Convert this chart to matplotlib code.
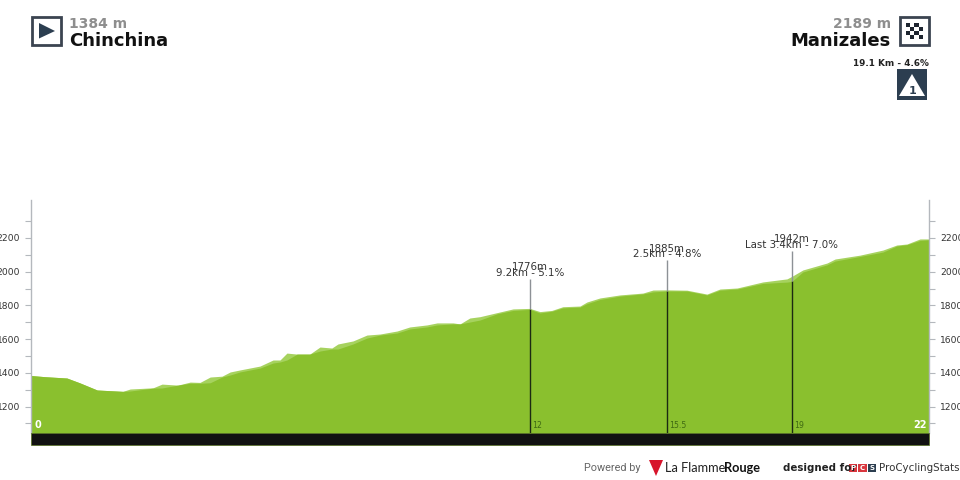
import matplotlib
matplotlib.use("Agg")
import matplotlib.pyplot as plt
from matplotlib.patches import Polygon, Rectangle

# PERFIL DE LA ETAPA
km = [0, 0.34, 0.88, 1.2, 1.62, 2.25, 2.43, 2.99, 3.21, 3.6, 3.9, 4.14, 4.39, 4.68,
      4.88, 5.12, 5.61, 5.93, 6.1, 6.27, 6.52, 6.83, 7.08, 7.37, 7.52, 7.89, 8.23,
      8.55, 8.97, 9.28, 9.7, 9.95, 10.34, 10.51, 10.75, 11.0, 11.42, 11.81, 12.22,
      12.47, 12.76, 13.03, 13.45, 13.62, 13.94, 14.43, 14.99, 15.24, 15.58, 16.07,
      16.56, 16.88, 17.3, 17.93, 18.52, 18.64, 18.91, 19.5, 19.7, 20.31, 20.87,
      21.21, 21.46, 21.78, 22]
elev_claro = [1384, 1377, 1369, 1340, 1298, 1290, 1304, 1311, 1333, 1327, 1345, 1343,
              1375, 1380, 1405, 1417, 1440, 1476, 1476, 1517, 1511, 1511, 1553, 1547,
              1571, 1589, 1624, 1630, 1648, 1672, 1684, 1696, 1696, 1690, 1725, 1733,
              1757, 1779, 1782, 1763, 1770, 1792, 1796, 1820, 1844, 1862, 1873, 1891,
              1892, 1890, 1867, 1897, 1903, 1939, 1957, 1972, 2010, 2051, 2075, 2098,
              2128, 2158, 2164, 2194, 2194]
elev_oscuro = [1384, 1377, 1369, 1340, 1298, 1290, 1292, 1309, 1310, 1327, 1338, 1338,
               1341, 1375, 1387, 1405, 1428, 1458, 1464, 1476, 1511, 1511, 1529, 1541,
               1541, 1571, 1606, 1624, 1636, 1660, 1672, 1684, 1690, 1690, 1701, 1713,
               1750, 1770, 1776, 1755, 1765, 1785, 1790, 1810, 1835, 1855, 1868, 1880,
               1885, 1885, 1862, 1890, 1897, 1930, 1938, 1942, 1998, 2040, 2063, 2090,
               2116, 2152, 2160, 2185, 2189]

marca_km = [12.22, 15.58, 18.64]
marca_elev = [1776, 1885, 1942]
marca_texto = ["9.2km - 5.1%", "2.5km - 4.8%", "Last 3.4km - 7.0%"]
marca_eje = ["12", "15.5", "19"]

ticks_mayores = [1200, 1400, 1600, 1800, 2000, 2200]
ticks_menores = [1100, 1300, 1500, 1700, 1900, 2100, 2300]

VERDE = "#8AC02E"
VERDE_CLARO = "#A6D25E"
AZUL = "#2C3E50"

fig = plt.figure(figsize=(9.6, 4.8), dpi=100)

# EJES DEL PERFIL
ax = fig.add_axes([31 / 960, 47 / 480, 898 / 960, 233 / 480])
ax.set_xlim(0, 22)
ax.set_ylim(1043, 2425)
ax.fill_between(km, 1043, elev_claro, color=VERDE_CLARO, lw=0)
ax.fill_between(km, 1043, elev_oscuro, color=VERDE, lw=0)

for s in ["top", "bottom"]:
    ax.spines[s].set_visible(False)
for s in ["left", "right"]:
    ax.spines[s].set_color("#b4b8bd")
    ax.spines[s].set_linewidth(1)
ax.set_xticks([])
ax.set_yticks(ticks_mayores)
ax.set_yticks(ticks_menores, minor=True)
ax.tick_params(axis="y", which="both", left=True, right=True, labelright=True,
               length=4, width=0.8, color="#b4b8bd", labelsize=6.6,
               labelcolor="#333333", pad=4)
ax.tick_params(axis="y", which="minor", labelleft=False, labelright=False)

# Marcas de los puertos
for k, e, t, eje in zip(marca_km, marca_elev, marca_texto, marca_eje):
    ax.vlines(k, 1043, e, color="#1c2a12", lw=1)
    ax.vlines(k, e, e + 182, color="#8d9196", lw=1)
    ax.text(k, e + 222, f"{e}m", ha="center", va="bottom", fontsize=7.4, color="#333333")
    ax.text(k, e + 188, t, ha="center", va="bottom", fontsize=7.4, color="#333333")
    ax.text(k + 0.06, 1063, eje, ha="left", va="bottom", fontsize=5.6, color="#3f6a12")

ax.text(0.08, 1063, "0", ha="left", va="bottom", fontsize=7, color="white", weight="bold")
ax.text(21.95, 1063, "22", ha="right", va="bottom", fontsize=7, color="white", weight="bold")

# CAPA EN PIXELES PARA ENCABEZADO Y PIE
capa = fig.add_axes([0, 0, 1, 1])
capa.set_xlim(0, 960)
capa.set_ylim(480, 0)
capa.axis("off")
capa.patch.set_alpha(0)

capa.add_patch(Rectangle((31, 433), 898, 12, fc="#111111", ec="#55701f", lw=0.5))

# Icono de salida
capa.add_patch(Rectangle((32, 17), 28.5, 28, fc="white", ec="#3b4450", lw=2))
capa.add_patch(Polygon([(39, 23), (55, 31), (39, 38.5)], fc=AZUL, ec="none"))
capa.text(69, 27.5, "1384 m", fontsize=10, weight="bold", color="#8e8e8e", ha="left", va="baseline")
capa.text(69, 45.5, "Chinchina", fontsize=13, weight="bold", color="#111111", ha="left", va="baseline")

# Icono de meta
capa.add_patch(Rectangle((900, 17), 28.5, 28, fc="white", ec="#3b4450", lw=2))
for fila in range(4):
    for col in range(4):
        if (fila + col) % 2 == 0:
            capa.add_patch(Rectangle((906 + col * 4.2, 22.5 + fila * 4.2), 4.2, 4.2,
                                     fc="#1e2530", ec="none"))
capa.text(891, 27.5, "2189 m", fontsize=10, weight="bold", color="#8e8e8e", ha="right", va="baseline")
capa.text(891, 45.5, "Manizales", fontsize=13, weight="bold", color="#111111", ha="right", va="baseline")

# Ultimo puerto
capa.text(929, 65.5, "19.1 Km - 4.6%", fontsize=6.4, weight="bold", color="#222222",
          ha="right", va="baseline", family=["Liberation Sans Narrow", "DejaVu Sans"])
capa.add_patch(Rectangle((897, 69), 30, 31, fc=AZUL, ec="none"))
capa.add_patch(Polygon([(912, 74), (925, 96), (899, 96)], fc="white", ec="none"))
capa.text(912.5, 94, "1", fontsize=8, weight="bold", color=AZUL, ha="center", va="baseline",
          family=["Liberation Sans Narrow", "DejaVu Sans"])

# Pie de grafica
capa.text(584, 471, "Powered by", fontsize=7.8, color="#666666", family="Roboto", va="baseline")
capa.add_patch(Polygon([(649, 460), (663, 460), (656, 476)], fc="#d7142b", ec="none"))
capa.text(665, 472, "La Flamme", fontsize=9.2, color="#222222", family="Lato", va="baseline")
capa.text(760, 472, "Rouge", fontsize=9.2, weight="bold", color="#111111", family="Lato",
          va="baseline", ha="right")
capa.text(783, 471, "designed for", fontsize=7.4, weight="bold", color="#222222", va="baseline")
for x, letra, c in zip([848.5, 858, 867.5], ["P", "C", "S"], ["#d9363e", "#d9363e", AZUL]):
    capa.add_patch(Rectangle((x, 463.5), 8.5, 8, fc=c, ec="none"))
    capa.text(x + 4.25, 467.5, letra, fontsize=5, weight="bold", color="white", ha="center", va="center")
capa.text(879, 471, "ProCyclingStats", fontsize=7.4, color="#333333", va="baseline")

fig.savefig("out.png", dpi=100)
